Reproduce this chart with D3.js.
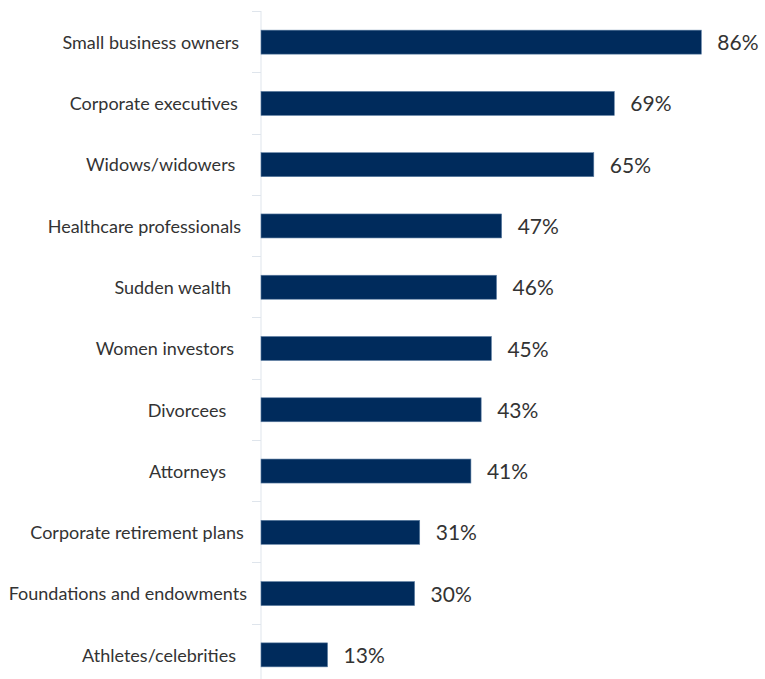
<!DOCTYPE html>
<html>
<head>
<meta charset="utf-8">
<script src="https://cdn.jsdelivr.net/npm/d3@7"></script>
<style>
  html, body { margin: 0; padding: 0; background: #fff; }
  svg { display: block; }
</style>
</head>
<body>
<svg id="chart" width="765" height="679"></svg>
<script>
const categories = [
  "Small business owners",
  "Corporate executives",
  "Widows/widowers",
  "Healthcare professionals",
  "Sudden wealth",
  "Women investors",
  "Divorcees",
  "Attorneys",
  "Corporate retirement plans",
  "Foundations and endowments",
  "Athletes/celebrities"
];
const values = [86, 69, 65, 47, 46, 45, 43, 41, 31, 30, 13];
const valueLabels = values.map(v => v + "%");

const svg = d3.select("#chart");
const x0 = 261;
const fontFamily = "'Source Sans Pro', Lato, sans-serif";

const x = d3.scaleLinear().domain([0, 100]).range([x0, x0 + 512]);

// one row per category, spanning the full plot height
const y = d3.scaleBand().domain(categories).range([12, 686]).paddingInner(0).paddingOuter(0);
const boundaries = categories.map(c => y(c)).concat([686]);
const rowCenter = c => y(c) + y.bandwidth() / 2;
const barHeight = 24;
const axisColor = "#dfe5ec";

// category axis line and boundary ticks
svg.append("line")
  .attr("x1", x0).attr("x2", x0)
  .attr("y1", 11).attr("y2", 679)
  .attr("stroke", axisColor).attr("stroke-width", 1);

svg.selectAll("line.tick").data(boundaries).join("line")
  .attr("class", "tick")
  .attr("x1", x0 - 9).attr("x2", x0)
  .attr("y1", d => Math.round(d) - 0.5).attr("y2", d => Math.round(d) - 0.5)
  .attr("stroke", axisColor).attr("stroke-width", 1);

// bars
svg.selectAll("rect.bar").data(values).join("rect")
  .attr("class", "bar")
  .attr("x", x(0))
  .attr("y", (d, i) => rowCenter(categories[i]) - barHeight / 2 - 0.5)
  .attr("width", d => x(d) - x(0))
  .attr("height", barHeight)
  .attr("fill", "#002b5c")
  .attr("stroke", "#5d7ea3")
  .attr("stroke-width", 0.6);

// category labels: longer labels reach slightly further toward the axis
svg.append("g")
  .selectAll("text").data(categories).join("text")
  .attr("y", d => rowCenter(d))
  .attr("dy", "0.35em")
  .attr("text-anchor", "end")
  .attr("font-family", fontFamily)
  .attr("font-size", 18)
  .attr("fill", "#333")
  .text(d => d)
  .attr("x", function () { return 216 + 0.13 * this.getComputedTextLength(); });

// value labels
svg.append("g")
  .selectAll("text").data(values).join("text")
  .attr("x", d => x(d) + 16)
  .attr("y", (d, i) => rowCenter(categories[i]))
  .attr("dy", "0.36em")
  .attr("font-family", fontFamily)
  .attr("font-size", 21)
  .attr("fill", "#333")
  .text((d, i) => valueLabels[i]);
</script>
</body>
</html>
